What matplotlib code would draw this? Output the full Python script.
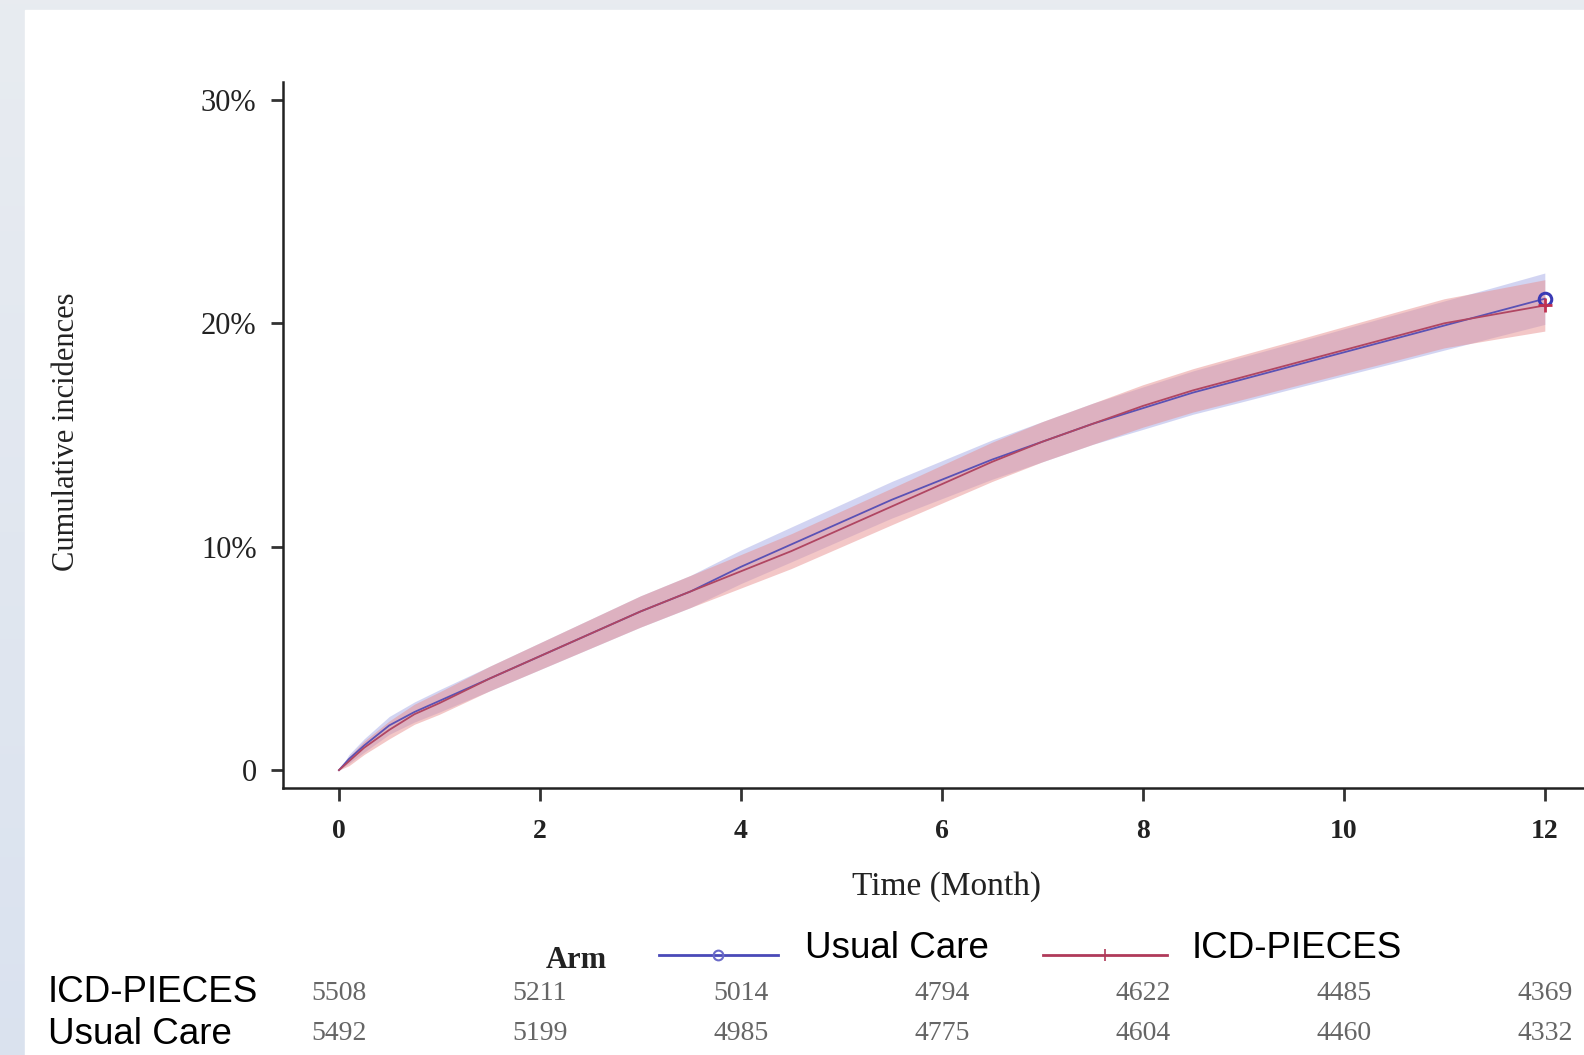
import numpy as np
import matplotlib
matplotlib.use("Agg")
import matplotlib.pyplot as plt
from matplotlib.lines import Line2D
from matplotlib.patches import Rectangle
from matplotlib.transforms import Bbox, blended_transform_factory

# ---------------- data ----------------
months = [0, 0.1, 0.25, 0.5, 0.75, 1, 1.5, 2, 2.5, 3, 3.5, 4, 4.5, 5, 5.5, 6,
          6.5, 7, 7.5, 8, 8.5, 9, 9.5, 10, 10.5, 11, 11.5, 12]
usual_care = [0, 0.5, 1.1, 2.0, 2.6, 3.1, 4.1, 5.1, 6.1, 7.1, 8.0, 9.1, 10.1, 11.1,
              12.1, 13.0, 13.9, 14.7, 15.5, 16.2, 16.9, 17.5, 18.1, 18.7, 19.3,
              19.9, 20.5, 21.1]
icd_pieces = [0, 0.4, 1.0, 1.8, 2.5, 3.0, 4.1, 5.1, 6.1, 7.1, 8.0, 8.9, 9.8, 10.8,
              11.8, 12.8, 13.8, 14.7, 15.5, 16.3, 17.0, 17.6, 18.2, 18.8, 19.4,
              20.0, 20.4, 20.8]
usual_ci = [0, 0.2, 0.3, 0.4, 0.45, 0.5, 0.55, 0.6, 0.65, 0.7, 0.72, 0.75, 0.78, 0.8,
            0.82, 0.85, 0.88, 0.9, 0.92, 0.95, 0.97, 1.0, 1.02, 1.05, 1.08, 1.1,
            1.12, 1.15]
icd_ci = [0, 0.2, 0.3, 0.4, 0.45, 0.5, 0.55, 0.6, 0.65, 0.7, 0.72, 0.75, 0.78, 0.8,
          0.82, 0.85, 0.88, 0.9, 0.92, 0.95, 0.97, 1.0, 1.02, 1.05, 1.08, 1.1,
          1.12, 1.15]

x_ticks = [0, 2, 4, 6, 8, 10, 12]
y_ticks = [0, 10, 20, 30]
y_tick_labels = ["0", "10%", "20%", "30%"]
risk_icd = [5508, 5211, 5014, 4794, 4622, 4485, 4369]
risk_usual = [5492, 5199, 4985, 4775, 4604, 4460, 4332]

# ---------------- figure ----------------
W, H = 1584, 1055
fig = plt.figure(figsize=(W / 100, H / 100), dpi=100)

# background gradient + white panel
bg = fig.add_axes([0, 0, 1, 1], zorder=-10)
grad = np.linspace(0, 1, 256).reshape(-1, 1)
c_top = np.array([0.910, 0.925, 0.945])
c_bot = np.array([0.855, 0.887, 0.937])
img = c_top[None, None, :] * (1 - grad[:, :, None]) + c_bot[None, None, :] * grad[:, :, None]
bg.imshow(img, aspect="auto", extent=[0, 1, 0, 1], origin="upper")
bg.add_patch(Rectangle((25 / W, 0), 1, 1 - 10 / H, color="white"))
bg.set_xlim(0, 1)
bg.set_ylim(0, 1)
bg.axis("off")

serif = "Liberation Serif"
sans = "Liberation Sans"

ax = fig.add_axes([283 / W, 1 - 788 / H, 1 - 283 / W, (788 - 82) / H])
ax.patch.set_alpha(0)

t = np.array(months)
uc = np.array(usual_care)
ic = np.array(icd_pieces)
ucl = np.array(usual_ci)
icl = np.array(icd_ci)

ax.fill_between(t, uc - ucl, uc + ucl, color="#a6abe6", alpha=0.5, lw=0)
ax.fill_between(t, ic - icl, ic + icl, color="#e89090", alpha=0.5, lw=0)
ax.plot(t, uc, color="#5a52b5", lw=1.3)
ax.plot(t, ic, color="#b04662", lw=1.3)
ax.plot([t[-1]], [uc[-1]], marker="o", ms=9, mfc="none", mec="#3a3ab5", mew=2.2)
ax.plot([t[-1]], [ic[-1]], marker="+", ms=10, color="#c03050", mew=2)

ax.set_xlim(-0.557, 12.39)
ax.set_ylim(-0.8, 30.8)
for s in ["top", "right"]:
    ax.spines[s].set_visible(False)
for s in ["left", "bottom"]:
    ax.spines[s].set_linewidth(1.8)
    ax.spines[s].set_color("#222222")

ax.set_xticks(x_ticks)
ax.set_xticklabels([str(v) for v in x_ticks], fontfamily=serif, fontweight="bold",
                   fontsize=20, color="#222222")
ax.set_yticks(y_ticks)
ax.set_yticklabels(y_tick_labels, fontfamily=serif, fontsize=22, color="#222222")
ax.tick_params(axis="x", length=9, width=2, pad=13, color="#333333")
ax.tick_params(axis="y", length=9, width=2, pad=10, color="#333333")

fig.text(946 / W, 1 - 887 / H, "Time (Month)", fontfamily=serif, fontsize=24,
         ha="center", va="center", color="#222222")
fig.text(67 / W, 1 - 432 / H, "Cumulative incidences", fontfamily=serif, fontsize=22,
         rotation=90, ha="center", va="center", color="#222222")

# legend row
fig.text(576 / W, 1 - 961 / H, "Arm", fontfamily=serif, fontweight="bold", fontsize=22,
         ha="center", va="center", color="#222222")
yl = 1 - 955 / H
fig.add_artist(Line2D([659 / W, 778 / W], [yl, yl], transform=fig.transFigure,
                      color="#4a4ab8", lw=2))
fig.add_artist(Line2D([718 / W], [yl], transform=fig.transFigure, marker="o", ms=7,
                      mfc="none", mec="#6a6ac8", mew=1.5))
fig.add_artist(Line2D([1043 / W, 1167 / W], [yl, yl], transform=fig.transFigure,
                      color="#b03a5a", lw=2))
fig.add_artist(Line2D([1105 / W], [yl], transform=fig.transFigure, marker="|", ms=8,
                      color="#b03a5a", mew=1.2))
fig.text(805 / W, 1 - 949 / H, "Usual Care", fontfamily=sans, fontsize=26.5,
         ha="left", va="center", color="black")
fig.text(1192 / W, 1 - 949 / H, "ICD-PIECES", fontfamily=sans, fontsize=26.5,
         ha="left", va="center", color="black")

# number-at-risk rows
fig.text(48 / W, 1 - 993 / H, "ICD-PIECES", fontfamily=sans, fontsize=26.5,
         ha="left", va="center", color="black")
fig.text(48 / W, 1 - 1035 / H, "Usual Care", fontfamily=sans, fontsize=26.5,
         ha="left", va="center", color="black")
tr = blended_transform_factory(ax.transData, fig.transFigure)
clip = Bbox.from_extents(303, 0, W + 10, H + 10)
for xv, a, b in zip(x_ticks, risk_icd, risk_usual):
    for val, yy in ((a, 994), (b, 1034)):
        txt = ax.text(xv, 1 - yy / H, str(val), transform=tr,
                      fontfamily=serif, fontsize=20, ha="center",
                      va="center", color="#666666")
        txt.set_clip_on(True)
        txt.set_clip_box(clip)

fig.savefig("out.png", dpi=100)
